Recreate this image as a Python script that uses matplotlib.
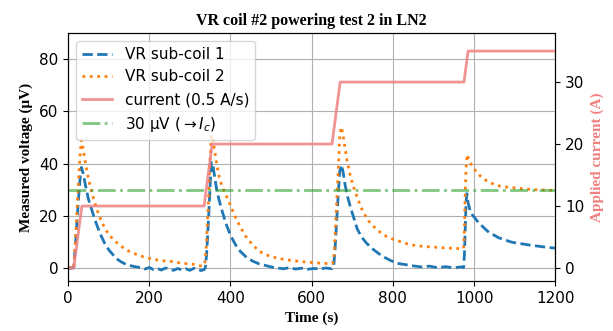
import matplotlib
matplotlib.use('Agg')
import matplotlib.pyplot as plt

# VR sub-coil 1 (uV)
t1 = [0, 5, 10, 14, 18, 22, 26, 30, 33, 36, 40, 45, 50, 57, 65, 72, 80, 90, 100,
      110, 120, 130, 140, 150, 165, 180, 190, 200, 210, 220, 230, 240, 250, 260,
      270, 280, 290, 300, 310, 320, 328, 335, 338, 341, 344, 347, 350, 353, 356,
      360, 366, 372, 380, 390, 400, 412, 425, 440, 455, 470, 485, 500, 515, 530,
      545, 560, 575, 590, 605, 620, 635, 650, 654, 657, 660, 663, 666, 669, 673,
      677, 682, 688, 695, 703, 712, 722, 735, 750, 765, 780, 795, 810, 830, 850,
      870, 890, 910, 930, 950, 965, 974, 976, 978, 980, 982, 985, 990, 995, 1000,
      1010, 1020, 1030, 1040, 1050, 1060, 1075, 1090, 1105, 1120, 1135, 1150,
      1165, 1180, 1200]
v1 = [0, -0.2, 0.1, 0, 8, 18, 27, 35, 38.5, 37, 34, 30, 26.5, 23, 19, 16, 12.8,
      9.5, 7, 5.2, 3.5, 2.4, 1.6, 1.0, 0.5, 0.1, -0.4, 0.2, -0.6, -0.2, -0.8, 0,
      -0.5, -0.9, -0.2, -0.7, -0.3, -0.9, -0.1, -0.6, -1.0, -0.6, 0, 5, 13, 22, 32,
      40.5, 40, 36, 30, 26, 21.5, 16.5, 12.5, 9, 6.2, 4, 2.6, 1.6, 1.0, 0.4, 0,
      -0.3, 0.1, -0.4, -0.1, -0.5, -0.2, -0.4, 0, -0.3, 0.5, 6, 14, 22, 30, 37,
      39.5, 37, 32, 27.5, 23.5, 19.5, 15, 12, 9.5, 7.3, 5.5, 4, 2.8, 1.8, 1.3, 0.8,
      0.4, 0.7, 0.1, 0.5, 0, 0.4, 0.2, 5, 15, 25, 28.5, 25, 22, 20.5, 19.5, 17.5,
      16, 14.5, 13.2, 12.5, 11.6, 10.8, 10, 9.5, 9.2, 8.8, 8.5, 8.2, 7.9, 7.6]

# VR sub-coil 2 (uV)
t2 = [0, 5, 10, 14, 18, 22, 26, 30, 33, 37, 42, 48, 55, 63, 72, 82, 93, 105, 118,
      132, 148, 165, 185, 205, 230, 255, 280, 305, 325, 335, 338, 341, 344, 347,
      350, 353, 356, 360, 366, 372, 380, 390, 400, 412, 425, 440, 455, 470, 485,
      500, 520, 545, 570, 600, 625, 650, 654, 657, 660, 663, 666, 669, 672, 676,
      681, 687, 694, 702, 712, 725, 740, 755, 770, 785, 800, 820, 840, 860, 880,
      900, 925, 950, 970, 974, 976, 978, 980, 983, 986, 990, 995, 1000, 1010, 1020,
      1030, 1040, 1050, 1065, 1080, 1095, 1110, 1130, 1150, 1170, 1185, 1200]
v2 = [0, 0.2, -0.1, 0, 10, 22, 34, 44, 49, 46, 41, 36, 31, 26.5, 22, 18, 14.5, 12,
      10, 8.2, 6.6, 5.4, 4.3, 3.5, 2.8, 2.5, 1.8, 1.5, 0.8, 1.0, 3, 10, 20, 30, 42,
      51, 50, 46, 40, 35, 31, 27.5, 24, 19.5, 15.5, 11.5, 8.8, 6.5, 5.2, 4.4, 3.6,
      3.0, 2.5, 2.1, 1.8, 1.6, 3, 10, 20, 30, 40, 50, 54, 52, 47, 41, 36, 31.5, 27,
      22, 18, 15.5, 13.5, 12, 11, 10, 9, 8.5, 8.2, 8, 7.7, 7.5, 7.4, 7.5, 15, 28,
      38, 43.5, 42, 40.5, 39, 38, 36, 34.5, 33.5, 32.7, 32, 31.3, 31, 30.8, 30.5,
      30.2, 30, 29.9, 29.8, 29.7]

# applied current (A)
t_cur = [0, 14, 34, 335, 355, 650, 670, 975, 985, 1200]
i_cur = [0, 0, 10, 10, 20, 20, 30, 30, 35, 35]

# critical voltage criterion
t_crit = [0, 1200]
v_crit = [30, 30]

fig = plt.figure(figsize=(6.13, 3.31), dpi=100)
ax = fig.add_axes([0.111, 0.151, 0.795, 0.749])
ax2 = ax.twinx()

l1, = ax.plot(t1, v1, '--', color='tab:blue', lw=2, label='VR sub-coil 1')
l2, = ax.plot(t2, v2, ':', color='tab:orange', lw=2, label='VR sub-coil 2')
l4, = ax.plot(t_crit, v_crit, '-.', color='tab:green', alpha=0.6, lw=2,
              label=r'30 μV ($\rightarrow I_c$)')
l3, = ax2.plot(t_cur, i_cur, '-', color='lightcoral', alpha=0.85, lw=2,
               label='current (0.5 A/s)')

ax.set_xlim(0, 1200)
ax.set_ylim(-5, 90)
ax2.set_ylim(-2.1, 37.9)
ax.set_yticks([0, 20, 40, 60, 80])
ax2.set_yticks([0, 10, 20, 30])
ax.grid(True)
ax.tick_params(labelsize=11)
ax2.tick_params(labelsize=11)

serif = ['Liberation Serif', 'DejaVu Serif']
ax.set_title('VR coil #2 powering test 2 in LN2', family=serif, weight='bold', fontsize=11.5)
ax.set_xlabel('Time (s)', family=serif, weight='bold', fontsize=11)
ax.set_ylabel('Measured voltage (μV)', family=serif, weight='bold', fontsize=11)
ax2.set_ylabel('Applied current (A)', family=serif, weight='bold', fontsize=11,
               color='lightcoral')

ax2.legend([l1, l2, l3, l4], [l.get_label() for l in (l1, l2, l3, l4)],
           loc='upper left', fontsize=11)

fig.savefig('out.png', dpi=100)
